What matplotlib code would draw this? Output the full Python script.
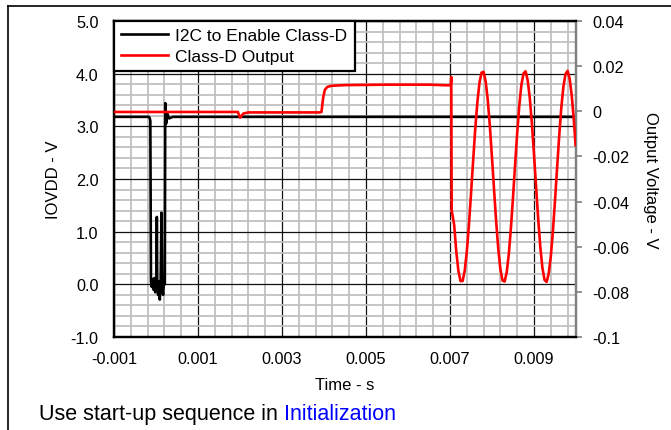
import matplotlib
matplotlib.use("Agg")
import matplotlib.pyplot as plt
from matplotlib.ticker import FixedLocator, MultipleLocator
from matplotlib.lines import Line2D

plt.rcParams['font.family'] = ['Liberation Sans', 'DejaVu Sans']

# ---- data ----
i2c_t = [-0.001, -0.00017, -0.00015, -0.000135, -0.00012, -0.0001, -0.00008, -0.00006,
         -0.00004, -0.00002, 0.00001, 0.00002, 0.00003, 0.00005, 0.00007, 0.00009,
         0.00011, 0.00013, 0.00015, 0.00017, 0.00019, 0.00021, 0.00022, 0.00024,
         0.00027, 0.00031, 0.0004, 0.00999]
i2c_v = [3.18, 3.18, 3.16, 3.10, 0.05, -0.05, 0.10, -0.10,
         0.12, -0.15, 0.0, 1.28, 0.0, -0.20, 0.05, -0.29,
         0.0, 1.36, -0.10, -0.20, 0.10, 0.0, 3.44, 3.05,
         3.24, 3.15, 3.18, 3.18]

out_t = [-0.001, 0.00195, 0.00200, 0.00203, 0.00208, 0.0022, 0.0039, 0.00394,
         0.00398, 0.00402, 0.00408, 0.00418, 0.0045, 0.0055, 0.0065, 0.00698,
         0.00702, 0.00703, 0.00704, 0.00706,
         0.0071, 0.00715, 0.0072, 0.00725, 0.0073, 0.00735, 0.0074, 0.00745,
         0.0075, 0.00755, 0.0076, 0.00765, 0.0077, 0.00775, 0.0078, 0.00785,
         0.0079, 0.00795, 0.0080, 0.00805, 0.0081, 0.00815, 0.0082, 0.00825,
         0.0083, 0.00835, 0.0084, 0.00845, 0.0085, 0.00855, 0.0086, 0.00865,
         0.0087, 0.00875, 0.0088, 0.00885, 0.0089, 0.00895, 0.0090, 0.00905,
         0.0091, 0.00915, 0.0092, 0.00925, 0.0093, 0.00935, 0.0094, 0.00945,
         0.0095, 0.00955, 0.0096, 0.00965, 0.0097, 0.00975, 0.0098, 0.00985,
         0.0099, 0.00995, 0.00999]
out_v = [-0.0003, -0.0003, -0.0028, -0.0022, -0.0010, -0.0005, -0.0005, -0.0003,
         0.0060, 0.0095, 0.0108, 0.0113, 0.0116, 0.0118, 0.0118, 0.0115,
         0.0120, 0.0152, -0.0440, -0.0460,
         -0.0505, -0.0622, -0.0707, -0.0752, -0.0752, -0.0707, -0.0622, -0.0505,
         -0.0366, -0.0221, -0.0082, 0.0037, 0.0124, 0.0171, 0.0175, 0.0131,
         0.0048, -0.0068, -0.0206, -0.0351, -0.0491, -0.0611, -0.0700, -0.0750,
         -0.0754, -0.0714, -0.0633, -0.0518, -0.0382, -0.0236, -0.0096, 0.0026,
         0.0117, 0.0168, 0.0177, 0.0137, 0.0058, -0.0055, -0.0191, -0.0336,
         -0.0477, -0.0601, -0.0693, -0.0747, -0.0756, -0.0720, -0.0643, -0.0531,
         -0.0396, -0.0251, -0.0109, 0.0015, 0.0109, 0.0165, 0.0179, 0.0143,
         0.0067, -0.0043, -0.0150]

x_ticks = [-0.001, 0.001, 0.003, 0.005, 0.007, 0.009]
x_tick_labels = ["-0.001", "0.001", "0.003", "0.005", "0.007", "0.009"]
left_ticks = [-1.0, 0.0, 1.0, 2.0, 3.0, 4.0, 5.0]
left_tick_labels = ["-1.0", "0.0", "1.0", "2.0", "3.0", "4.0", "5.0"]
right_ticks = [-0.1, -0.08, -0.06, -0.04, -0.02, 0.0, 0.02, 0.04]
right_tick_labels = ["-0.1", "-0.08", "-0.06", "-0.04", "-0.02", "0", "0.02", "0.04"]

# ---- figure ----
W, H = 671, 431
fig = plt.figure(figsize=(W / 100, H / 100), dpi=100)
ax1 = fig.add_axes([114 / W, 1 - 338 / H, (576 - 114) / W, (338 - 22) / H])
ax2 = ax1.twinx()

ax1.set_xlim(-0.001, 0.01)
ax1.set_ylim(-1.0, 5.0)
ax2.set_ylim(-0.1, 0.04)

# grid on ax1
ax1.xaxis.set_major_locator(FixedLocator(x_ticks))
ax1.xaxis.set_minor_locator(MultipleLocator(0.0004, offset=0.0002))
ax1.yaxis.set_major_locator(FixedLocator(left_ticks))
ax1.yaxis.set_minor_locator(MultipleLocator(0.2))
ax1.set_xticklabels(x_tick_labels)
ax1.set_yticklabels(left_tick_labels)
ax1.grid(which='minor', color='#c0c0c0', lw=1.3, zorder=0)
ax1.grid(which='major', color='#111111', lw=0.9, zorder=0.5)
ax1.set_axisbelow(True)
ax1.tick_params(which='both', length=0)
ax1.tick_params(axis='y', pad=11, labelsize=11.7)
ax1.tick_params(axis='x', pad=10, labelsize=11.7)

ax2.yaxis.set_major_locator(FixedLocator(right_ticks))
ax2.set_yticklabels(right_tick_labels)
ax2.tick_params(axis='y', which='major', length=4, width=1.2, color='#808080',
                direction='out', pad=8, labelsize=11.7)
ax2.tick_params(axis='y', which='minor', length=0)

l1, = ax1.plot(i2c_t, i2c_v, color='black', lw=1.9, label='I2C to Enable Class-D', zorder=3)
l2, = ax2.plot(out_t, out_v, color='#ff0000', lw=1.9, label='Class-D Output', zorder=3)

for ax in (ax1, ax2):
    for s in ('left', 'bottom', 'top'):
        ax.spines[s].set_color('black')
        ax.spines[s].set_linewidth(1.6)
    ax.spines['right'].set_color('#808080')
    ax.spines['right'].set_linewidth(1.6)

ax1.set_ylabel('IOVDD - V', fontsize=12, labelpad=7)
ax2.set_ylabel('Output Voltage - V', fontsize=12, rotation=270, labelpad=20)
ax1.set_xlabel('Time - s', fontsize=12, labelpad=8)

leg = ax2.legend(handles=[l1, l2], loc='upper left', bbox_to_anchor=(0, 1),
                 borderaxespad=0, fancybox=False, framealpha=1, edgecolor='black',
                 fontsize=12.5, handlelength=2.7, handletextpad=0.4, borderpad=0.42,
                 labelspacing=0.3)
leg.get_frame().set_linewidth(1.6)

# frame lines of the surrounding cell
fig.add_artist(Line2D([8 / W, 1.0], [1 - 7 / H, 1 - 7 / H], transform=fig.transFigure,
                      color='black', lw=1.2))
fig.add_artist(Line2D([8 / W, 8 / W], [0.0, 1 - 7 / H], transform=fig.transFigure,
                      color='black', lw=1.2))

# caption
t1 = fig.text(39 / W, 1 - 415 / H, 'Use start-up sequence in ', fontsize=15.5,
              color='black', va='center', ha='left')
fig.canvas.draw()
bb = t1.get_window_extent()
fig.text(bb.x1 / W, 1 - 415 / H, 'Initialization', fontsize=15.5, color='#0000ff',
         va='center', ha='left')

fig.savefig('out.png', dpi=100)
